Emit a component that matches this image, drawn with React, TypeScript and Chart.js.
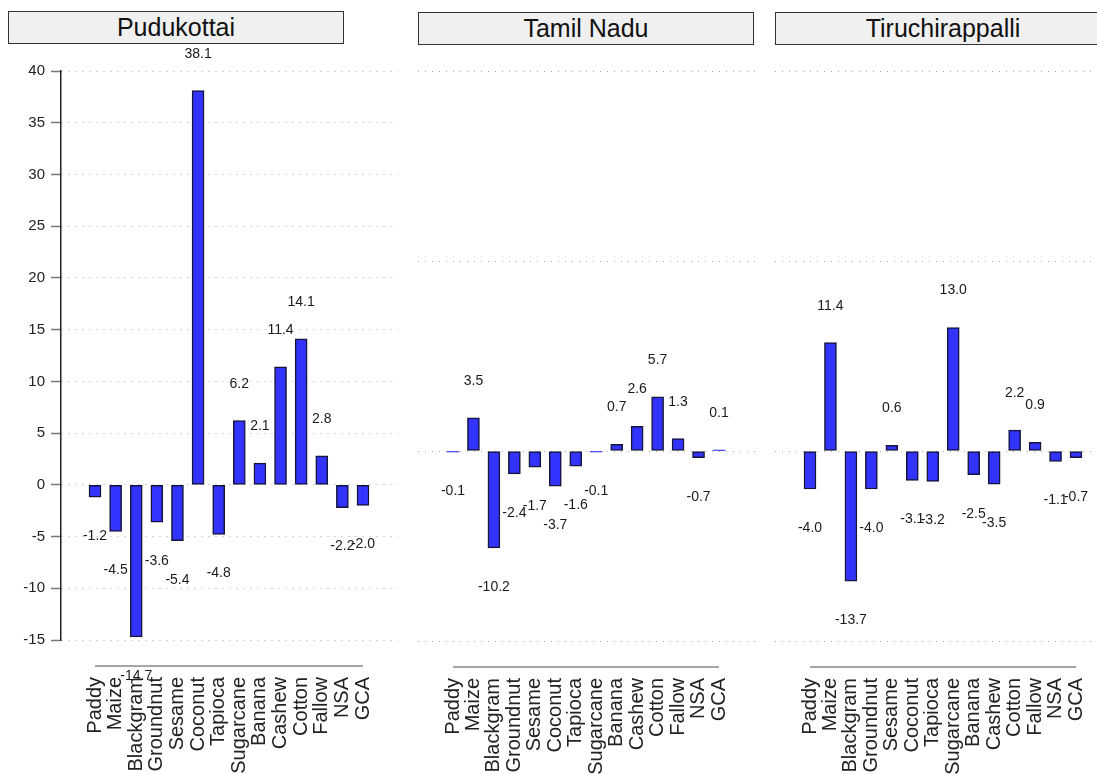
import React, { useEffect, useRef } from "react";
import { Chart, registerables } from "chart.js";

Chart.register(...registerables);

// Crop categories shared by every panel
const categories = [
  "Paddy", "Maize", "Blackgram", "Groundnut", "Sesame", "Coconut", "Tapioca",
  "Sugarcane", "Banana", "Cashew", "Cotton", "Fallow", "NSA", "GCA",
];

// Percentage change per category
const pudukottaiValues = [-1.2, -4.5, -14.7, -3.6, -5.4, 38.1, -4.8, 6.2, 2.1, 11.4, 14.1, 2.8, -2.2, -2.0];
const tamilNaduValues = [-0.1, 3.5, -10.2, -2.4, -1.7, -3.7, -1.6, -0.1, 0.7, 2.6, 5.7, 1.3, -0.7, 0.1];
const tiruchirappalliValues = [-4.0, 11.4, -13.7, -4.0, 0.6, -3.1, -3.2, 13.0, -2.5, -3.5, 2.2, 0.9, -1.1, -0.7];

// Y tick values
const pudukottaiTicks = [-15, -10, -5, 0, 5, 10, 15, 20, 25, 30, 35, 40];
const sharedTicks = [-20, 0, 20, 40];

const FONT = '"Liberation Sans", Arial, Helvetica, sans-serif';
const PAGE_W = 1097;
const PAGE_H = 774;

type Panel = {
  title: string;
  values: number[];
  ticks: number[];
  showAxis: boolean;
  canvasLeft: number;
  canvasWidth: number;
  axisWidth: number;
  xMin: number;
  xMax: number;
  stripLeft: number;
  stripTop: number;
  axisHeight: number;
};

const panels: Panel[] = [
  {
    title: "Pudukottai", values: pudukottaiValues, ticks: pudukottaiTicks, showAxis: true,
    canvasLeft: 0, canvasWidth: 398, axisWidth: 61, xMin: -1.649, xMax: 14.698,
    stripLeft: 8, stripTop: 11, axisHeight: 134,
  },
  {
    title: "Tamil Nadu", values: tamilNaduValues, ticks: sharedTicks, showAxis: false,
    canvasLeft: 418, canvasWidth: 337, axisWidth: 0, xMin: -1.71, xMax: 14.76,
    stripLeft: 418, stripTop: 12, axisHeight: 133,
  },
  {
    title: "Tiruchirappalli", values: tiruchirappalliValues, ticks: sharedTicks, showAxis: false,
    canvasLeft: 775, canvasWidth: 336, axisWidth: 0, xMin: -1.71, xMax: 14.71,
    stripLeft: 775, stripTop: 12, axisHeight: 133,
  },
];

// Value text above positive bars, below negative ones
const valueLabels = {
  id: "valueLabels",
  afterDatasetsDraw(chart: any) {
    const { ctx, scales } = chart;
    const meta = chart.getDatasetMeta(0);
    const data = chart.data.datasets[0].data as { x: number; y: number }[];
    ctx.save();
    ctx.font = `14px ${FONT}`;
    ctx.fillStyle = "#1a1a1a";
    ctx.textAlign = "center";
    ctx.textBaseline = "middle";
    meta.data.forEach((bar: any, i: number) => {
      const v = data[i].y;
      const y = scales.y.getPixelForValue(v) + (v >= 0 ? -37 : 39);
      ctx.fillText(v.toFixed(1), bar.x, y);
    });
    ctx.restore();
  },
};

// Grey line running from the first to the last category
const categoryBaseline = {
  id: "categoryBaseline",
  afterDraw(chart: any) {
    const { ctx, scales, chartArea } = chart;
    const y = chartArea.bottom + 26;
    ctx.save();
    ctx.strokeStyle = "#a6a6a6";
    ctx.lineWidth = 2;
    ctx.beginPath();
    ctx.moveTo(scales.x.getPixelForValue(0), y);
    ctx.lineTo(scales.x.getPixelForValue(categories.length - 1), y);
    ctx.stroke();
    ctx.restore();
  },
};

function PanelChart({ panel }: { panel: Panel }) {
  const ref = useRef<HTMLCanvasElement | null>(null);

  useEffect(() => {
    if (!ref.current) return;
    const tickValues = panel.ticks;
    const chart = new Chart(ref.current, {
      type: "bar",
      data: {
        datasets: [
          {
            data: panel.values.map((v, i) => ({ x: i, y: v })),
            backgroundColor: "#3333ff",
            borderColor: "#14143c",
            borderWidth: (ctx: any) => (Math.abs(ctx.raw?.y ?? 1) < 0.2 ? 0 : 1.5),
            borderSkipped: false,
            barThickness: 12,
          },
        ],
      },
      options: {
        animation: false,
        responsive: false,
        devicePixelRatio: 1,
        layout: { padding: { top: 71, bottom: 0, left: 0, right: 0 } },
        plugins: {
          legend: { display: false },
          tooltip: { enabled: false },
          title: { display: false },
        },
        scales: {
          x: {
            type: "linear",
            offset: false,
            min: panel.xMin,
            max: panel.xMax,
            grid: { display: false, drawTicks: false, offset: false },
            border: { display: false },
            afterBuildTicks: (axis: any) => {
              axis.ticks = categories.map((_, i) => ({ value: i }));
            },
            afterFit: (axis: any) => {
              axis.height = panel.axisHeight;
              axis.paddingLeft = 0;
              axis.paddingRight = 0;
            },
            ticks: {
              autoSkip: false,
              minRotation: 90,
              maxRotation: 90,
              padding: 37,
              color: "#222",
              font: { family: FONT, size: 20 },
              callback: (v: any) => categories[Number(v)] ?? "",
            },
          },
          y: {
            type: "linear",
            min: tickValues[0],
            max: tickValues[tickValues.length - 1],
            afterBuildTicks: (axis: any) => {
              axis.ticks = tickValues.map((v) => ({ value: v }));
            },
            afterFit: (axis: any) => {
              axis.width = panel.axisWidth;
              axis.paddingTop = 0;
              axis.paddingBottom = 0;
            },
            grid: {
              color: "#a8a8a8",
              lineWidth: 1,
              drawTicks: panel.showAxis,
              tickLength: 10,
              tickColor: "#777",
              tickWidth: 1.5,
            },
            border: {
              display: panel.showAxis,
              color: "#222",
              width: 1.5,
              dash: [1, 6],
            },
            ticks: {
              display: panel.showAxis,
              padding: 6,
              color: "#222",
              font: { family: FONT, size: 15 },
            },
          },
        },
      } as any,
      plugins: [valueLabels, categoryBaseline],
    });
    return () => chart.destroy();
  }, [panel]);

  return (
    <canvas
      ref={ref}
      width={panel.canvasWidth}
      height={PAGE_H}
      style={{ position: "absolute", left: panel.canvasLeft, top: 0, display: "block" }}
    />
  );
}

export default function App() {
  return (
    <div
      style={{
        position: "absolute",
        left: 0,
        top: 0,
        width: PAGE_W,
        height: PAGE_H,
        overflow: "hidden",
        background: "#fff",
        fontFamily: FONT,
      }}
    >
      {panels.map((p) => (
        <div
          key={p.title + "-strip"}
          style={{
            position: "absolute",
            left: p.stripLeft,
            top: p.stripTop,
            width: 336,
            height: 33,
            boxSizing: "border-box",
            border: "1.5px solid #333",
            background: "#f0f0f0",
            color: "#111",
            fontSize: 25,
            lineHeight: "30px",
            textAlign: "center",
          }}
        >
          {p.title}
        </div>
      ))}
      {panels.map((p) => (
        <PanelChart key={p.title} panel={p} />
      ))}
    </div>
  );
}
